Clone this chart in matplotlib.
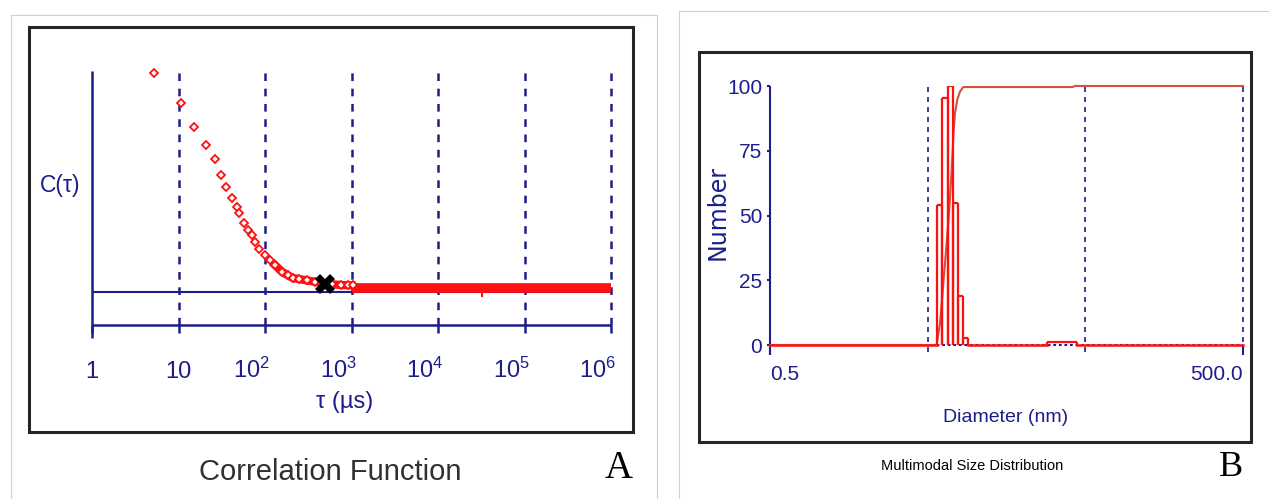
import matplotlib
matplotlib.use('Agg')
import matplotlib.pyplot as plt
from matplotlib.patches import Rectangle
from matplotlib.transforms import ScaledTranslation

plt.rcParams['lines.scale_dashes'] = False

# ---- panel A : correlation function ----
tau = [5.21, 10.6, 15.1, 20.6, 26.2, 31.0, 35.1, 41.2, 47.1, 50.0, 57.2, 64.1,
       70.2, 76.6, 85.2, 100, 114, 130, 156, 185, 211, 250, 306, 380, 456,
       600, 750, 900, 1040]
corr = [1.664, 1.574, 1.501, 1.446, 1.402, 1.355, 1.319, 1.284, 1.259, 1.239,
        1.208, 1.188, 1.173, 1.152, 1.129, 1.112, 1.097, 1.082, 1.062, 1.050,
        1.042, 1.039, 1.035, 1.031, 1.028, 1.023, 1.022, 1.021, 1.020]
dense_tau = [130, 156, 185, 211, 250, 306, 380, 456, 600, 800, 1000]
dense_corr = [1.082, 1.062, 1.050, 1.042, 1.039, 1.035, 1.031, 1.028, 1.023,
              1.021, 1.020]
tail_tau = [1000, 1e6]
tail_corr = [1.012, 1.012]
outlier_tau = [3.2e4]
outlier_corr = [0.995]
fit_tau = [494]
fit_corr = [1.024]
baseline_corr = 1.0
axis_corr = 0.9
decades = [1, 10, 1e2, 1e3, 1e4, 1e5, 1e6]
decade_labels = ['1', '10', r'$\mathregular{10^{2}}$', r'$\mathregular{10^{3}}$',
                 r'$\mathregular{10^{4}}$', r'$\mathregular{10^{5}}$',
                 r'$\mathregular{10^{6}}$']

# ---- panel B : size distribution ----
bin_edges = [5.70, 6.14, 6.70, 7.27, 7.82, 8.41, 9.05]
bin_number = [54, 95.5, 100, 55, 19, 2.7]
small_edges = [28.4, 44.0]
small_number = [1.0]
cum_d = [0.5, 5.70, 5.99, 6.44, 6.85, 7.10, 7.27, 7.45, 7.70, 8.01, 8.41, 41.5, 43.0, 500]
cum_n = [0, 0, 8.4, 31.5, 52, 67.5, 80.4, 89.5, 94.6, 97.8, 99.6, 99.6, 100, 100]
size_grid = [5, 50, 500]
number_ticks = [0, 25, 50, 75, 100]

W, H = 1269, 499
NAVY = '#1d1d8c'
RED = '#ff1010'
narrow = ['Liberation Sans Narrow', 'Liberation Sans', 'DejaVu Sans']
serif = ['Liberation Serif', 'DejaVu Serif']


def fx(x):
    return x / W


def fy(y):
    return 1 - y / H


fig = plt.figure(figsize=(W / 100, H / 100), dpi=100)

# frames
fig.add_artist(Rectangle((fx(11), fy(530)), fx(657) - fx(11), fy(15) - fy(530),
                         fill=False, ec='#d0d0d0', lw=0.8, transform=fig.transFigure))
fig.add_artist(Rectangle((fx(679), fy(530)), fx(1300) - fx(679), fy(11) - fy(530),
                         fill=False, ec='#d0d0d0', lw=0.8, transform=fig.transFigure))
fig.add_artist(Rectangle((fx(29), fy(432)), fx(633) - fx(29), fy(27) - fy(432),
                         fill=False, ec='#252525', lw=2.2, transform=fig.transFigure))
fig.add_artist(Rectangle((fx(699), fy(442)), fx(1251) - fx(699), fy(52) - fy(442),
                         fill=False, ec='#252525', lw=2.2, transform=fig.transFigure))

# ---------------- panel A ----------------
axA = fig.add_axes([fx(92), fy(338), fx(611) - fx(92), fy(71) - fy(338)])
axA.set_xscale('log')
axA.set_xlim(1, 1e6)
ylo, yhi = 0.8606, 1.6697
axA.set_ylim(ylo, yhi)
axA.axis('off')

axA.vlines(decades[1:], axis_corr, yhi, colors=NAVY, lw=1.8,
           linestyles=(0, (5.5, 5.5)), clip_on=False)
axA.vlines(1, ylo, yhi, colors=NAVY, lw=1.8, clip_on=False)
axA.hlines(axis_corr, 1, 1e6, colors=NAVY, lw=1.8, clip_on=False)
axA.vlines(decades, 0.876, axis_corr, colors=NAVY, lw=1.8, clip_on=False)
axA.hlines(baseline_corr, 1, 1e6, colors=NAVY, lw=1.5, clip_on=False)

axA.plot(tail_tau, tail_corr, color=RED, lw=7, solid_capstyle='butt', clip_on=False)
axA.plot(dense_tau, dense_corr, color=RED, lw=6, clip_on=False)
axA.plot(tau, corr, ls='none', marker='D', ms=4, mfc='white', mec=RED, mew=1.3,
         clip_on=False)
axA.plot(outlier_tau, outlier_corr, ls='none', marker='|', ms=5, mec=RED, mew=1.5)
axA.plot(fit_tau, fit_corr, ls='none', marker='X', ms=14, color='black', mew=0)

for t, lab in zip(decades, decade_labels):
    if t < 100:
        tr = axA.get_xaxis_transform()
        ha = 'center'
    else:
        tr = axA.get_xaxis_transform() + ScaledTranslation(5 / 100, 0, fig.dpi_scale_trans)
        ha = 'right'
    axA.text(t, -0.15, lab, transform=tr, ha=ha, va='baseline', fontsize=17,
             color=NAVY, family=narrow)

fig.text(fx(345), fy(402), 'τ (µs)', ha='center', va='center', fontsize=17,
         color=NAVY, family=narrow)
fig.text(fx(60), fy(186), 'C(τ)', ha='center', va='center', fontsize=16.5,
         color=NAVY, family=narrow)
fig.text(fx(330), fy(472), 'Correlation Function', ha='center', va='center',
         fontsize=21, color='#303030', family=narrow)
fig.text(fx(619), fy(468), 'A', ha='center', va='center', fontsize=28,
         color='black', family=serif)

# ---------------- panel B ----------------
axB = fig.add_axes([fx(770), fy(355), fx(1243) - fx(770), fy(86) - fy(355)])
axB.set_xscale('log')
axB.set_xlim(0.5, 500)
bylo = -3.86
axB.set_ylim(bylo, 100)
for s in axB.spines.values():
    s.set_visible(False)
axB.set_yticks(number_ticks)
axB.set_yticklabels([str(v) for v in number_ticks], fontsize=15, color=NAVY,
                    family=narrow)
axB.tick_params(axis='y', length=2.5, width=1.5, color=NAVY, pad=3)
axB.set_xticks([0.5, 500])
axB.set_xticks([], minor=True)
axB.set_xticklabels(['0.5', '500.0'], fontsize=15, color=NAVY, family=narrow)
axB.tick_params(axis='x', length=0, pad=7)
xl = axB.get_xticklabels()
xl[0].set_ha('left')
xl[1].set_ha('right')

axB.vlines(0.5, bylo, 100, colors=NAVY, lw=1.5, clip_on=False)
axB.vlines([0.5, 500], bylo, 0, colors=NAVY, lw=1.5, clip_on=False)
axB.vlines(size_grid, -2.7, 100, colors=NAVY, lw=1.2,
           linestyles=(0, (3.6, 3.6)), clip_on=False)
axB.hlines(0, 0.5, 500, colors=NAVY, lw=1.5, linestyles=(0, (2, 2)), clip_on=False)

axB.plot(cum_d, cum_n, color='#d4513a', lw=1.5, clip_on=False)

# red baseline outside the bins
axB.plot([0.5, bin_edges[0]], [0, 0], color=RED, lw=1.8, clip_on=False)
axB.plot([bin_edges[-1], small_edges[0]], [0, 0], color=RED, lw=1.8, clip_on=False)
axB.plot([small_edges[-1], 500], [0, 0], color=RED, lw=1.8, clip_on=False)

for edges, heights in ((bin_edges, bin_number), (small_edges, small_number)):
    axB.vlines(edges[:-1], 0, heights, colors=RED, lw=1.6)
    axB.vlines(edges[1:], 0, heights, colors=RED, lw=1.6)
    axB.hlines(heights, edges[:-1], edges[1:], colors=RED, lw=1.6)

fig.text(fx(718), fy(213), 'Number', ha='center', va='center', rotation=90,
         fontsize=17, color=NAVY, family='DejaVu Sans')
fig.text(fx(1006), fy(417), 'Diameter (nm)', ha='center', va='center',
         fontsize=14, color=NAVY, family=narrow)
fig.text(fx(972), fy(466), 'Multimodal Size Distribution', ha='center',
         va='center', fontsize=10.5, color='black', family=narrow)
fig.text(fx(1231), fy(468), 'B', ha='center', va='center', fontsize=26,
         color='black', family=serif)

fig.savefig('out.png', dpi=100, facecolor='white')
